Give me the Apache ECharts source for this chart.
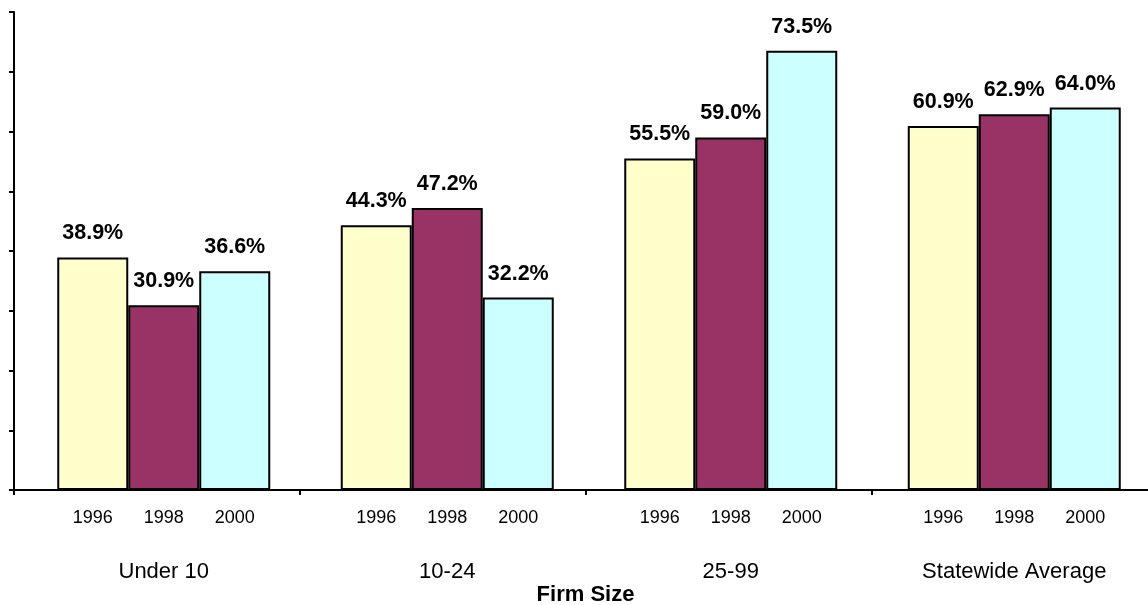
<!DOCTYPE html>
<html>
<head>
<meta charset="utf-8">
<script src="https://cdn.jsdelivr.net/npm/echarts@6/dist/echarts.min.js"></script>
<style>
html,body{margin:0;padding:0;background:#fff;}
#chart{width:1148px;height:605px;}
</style>
</head>
<body>
<div id="chart"></div>
<script>
const categories = ['Under 10', '10-24', '25-99', 'Statewide Average'];
const years = ['1996', '1998', '2000'];
const values1996 = [38.9, 44.3, 55.5, 60.9];
const values1998 = [30.9, 47.2, 59.0, 62.9];
const values2000 = [36.6, 32.2, 73.5, 64.0];
const colors = ['#FFFFCC', '#993366', '#CCFFFF'];

const FONT = "'Liberation Sans', Arial, sans-serif";
const chart = echarts.init(document.getElementById('chart'));

const seriesValues = [values1996, values1998, values2000];
const series = seriesValues.map((vals, i) => ({
  name: years[i],
  type: 'bar',
  xAxisIndex: 0,
  yAxisIndex: 0,
  data: vals,
  barWidth: 71,
  barGap: '0%',
  itemStyle: { color: colors[i], borderColor: '#000', borderWidth: 2 },
  label: {
    show: true,
    position: 'top',
    distance: 13,
    fontFamily: FONT,
    fontWeight: 'bold',
    fontSize: 21.5,
    color: '#000',
    formatter: p => p.value.toFixed(1) + '%'
  }
}));

const yearRich = years.map(y => '{a|' + y + '}').join('');

chart.setOption({
  animation: false,
  backgroundColor: '#fff',
  grid: [
    { left: 22, right: -8, top: 12, bottom: 115, containLabel: false, outerBoundsMode: 'none' },
    { left: 14, right: -9, top: 12, bottom: 115, containLabel: false, outerBoundsMode: 'none' }
  ],
  xAxis: [
    {
      gridIndex: 0,
      type: 'category',
      data: categories,
      position: 'bottom',
      axisLine: { show: false },
      axisTick: { show: false },
      axisLabel: {
        show: true,
        interval: 0,
        margin: 19,
        formatter: () => yearRich,
        rich: {
          a: { width: 71, align: 'center', fontSize: 18, fontFamily: FONT, color: '#000' }
        }
      },
      splitLine: { show: false }
    },
    {
      gridIndex: 0,
      type: 'category',
      data: categories,
      position: 'bottom',
      axisLine: { show: false },
      axisTick: { show: false },
      axisLabel: { show: true, interval: 0, margin: 71, fontSize: 22, fontFamily: FONT, color: '#000' },
      splitLine: { show: false }
    },
    {
      gridIndex: 1,
      type: 'category',
      data: categories,
      position: 'bottom',
      axisLine: { show: true, lineStyle: { color: '#000', width: 2 } },
      axisTick: { show: true, length: 5, lineStyle: { color: '#000', width: 2 } },
      axisLabel: { show: false },
      name: 'Firm Size',
      nameLocation: 'middle',
      nameGap: 94,
      nameMoveOverlap: false,
      nameTextStyle: { fontSize: 22, fontWeight: 'bold', fontFamily: FONT, color: '#000' },
      splitLine: { show: false }
    }
  ],
  yAxis: [
    {
      gridIndex: 0,
      type: 'value',
      min: 0,
      max: 80,
      interval: 10,
      axisLine: { show: false },
      axisTick: { show: false },
      axisLabel: { show: false },
      splitLine: { show: false }
    },
    {
      gridIndex: 1,
      type: 'value',
      min: 0,
      max: 80,
      interval: 10,
      axisLine: { show: true, lineStyle: { color: '#000', width: 2 } },
      axisTick: { show: true, length: 5, lineStyle: { color: '#000', width: 2 } },
      axisLabel: { show: false },
      splitLine: { show: false }
    }
  ],
  series: series
});
</script>
</body>
</html>
